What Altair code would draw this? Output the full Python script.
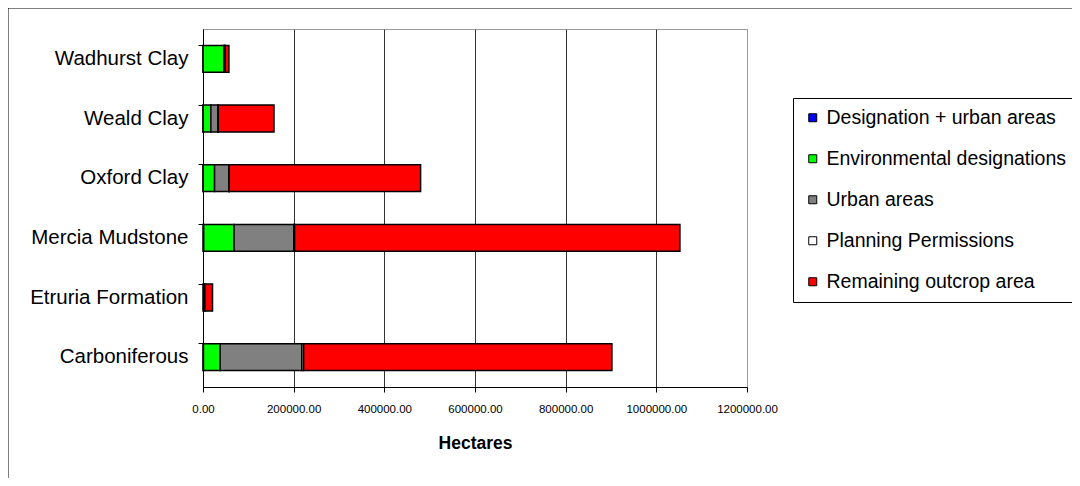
import altair as alt
import pandas as pd

categories = ["Wadhurst Clay", "Weald Clay", "Oxford Clay", "Mercia Mudstone",
              "Etruria Formation", "Carboniferous"]
series = ["Designation + urban areas", "Environmental designations", "Urban areas",
          "Planning Permissions", "Remaining outcrop area"]
colors = ["#0000FF", "#00FF00", "#808080", "#FFFFFF", "#FF0000"]

designation_urban = [200, 300, 500, 1500, 0, 1000]
environmental = [46000, 17000, 25000, 67000, 1500, 37000]
urban = [2000, 16000, 32000, 132000, 2500, 180000]
planning = [500, 300, 500, 1500, 0, 4000]
remaining = [8500, 123000, 422000, 850000, 17000, 680000]

x_ticks = [0, 200000, 400000, 600000, 800000, 1000000, 1200000]

rows = []
for si, (name, vals) in enumerate(zip(series, [designation_urban, environmental, urban,
                                               planning, remaining])):
    for cat, v in zip(categories, vals):
        if v > 0:
            rows.append({"category": cat, "series": name, "value": v, "order": si})
df = pd.DataFrame(rows)

FONT = "Liberation Sans"

bars = alt.Chart(df).mark_bar(stroke="black", strokeWidth=1.5).encode(
    y=alt.Y("category:N", sort=categories,
            scale=alt.Scale(paddingInner=0.55, paddingOuter=0.275),
            axis=alt.Axis(title=None, bandPosition=0, labelFontSize=20.5, labelFont=FONT,
                          labelColor="black", labelPadding=10, tickSize=5,
                          tickColor="black", domainColor="black", grid=False)),
    x=alt.X("value:Q", stack="zero",
            scale=alt.Scale(domain=[0, 1200000], nice=False),
            axis=alt.Axis(values=x_ticks, format=".2f", title="Hectares",
                          labelFontSize=11.5, labelFont=FONT, labelColor="black",
                          labelOverlap=False, labelFlush=False,
                          labelPadding=11, tickSize=5, tickColor="black",
                          domainColor="black", grid=True,
                          gridColor={"condition": {"test": "datum.value === 1200000",
                                                   "value": "#999999"},
                                     "value": "#333333"},
                          gridWidth=1, titleFont=FONT, titleFontSize=17.5,
                          titleFontWeight="bold", titleColor="black",
                          titlePadding=20)),
    fill=alt.Fill("series:N", sort=series,
                  scale=alt.Scale(domain=series, range=colors),
                  legend=alt.Legend(title=None, orient="none", legendX=590, legendY=69,
                                    strokeColor="black", fillColor="white", padding=10,
                                    symbolType="square", symbolSize=64,
                                    symbolStrokeColor="black", symbolStrokeWidth=1,
                                    labelFontSize=19.5, labelFont=FONT, labelColor="black",
                                    labelOffset=4, rowPadding=20, labelLimit=400)),
    order=alt.Order("order:Q"),
)

frame = alt.Chart(alt.Data(values=[{}])).mark_rect(
    fillOpacity=0, stroke="black", strokeWidth=1
).encode(
    x=alt.value(-195), x2=alt.value(1000), y=alt.value(-21), y2=alt.value(700)
)

chart = alt.layer(frame, bars).properties(
    width=544, height=358,
    padding={"left": 195, "top": 21, "right": 325, "bottom": 91},
    autosize=alt.AutoSizeParams(type="none"),
).configure_view(stroke="#999999")

chart.save("out.html", embed_options={"renderer": "svg", "actions": False})
